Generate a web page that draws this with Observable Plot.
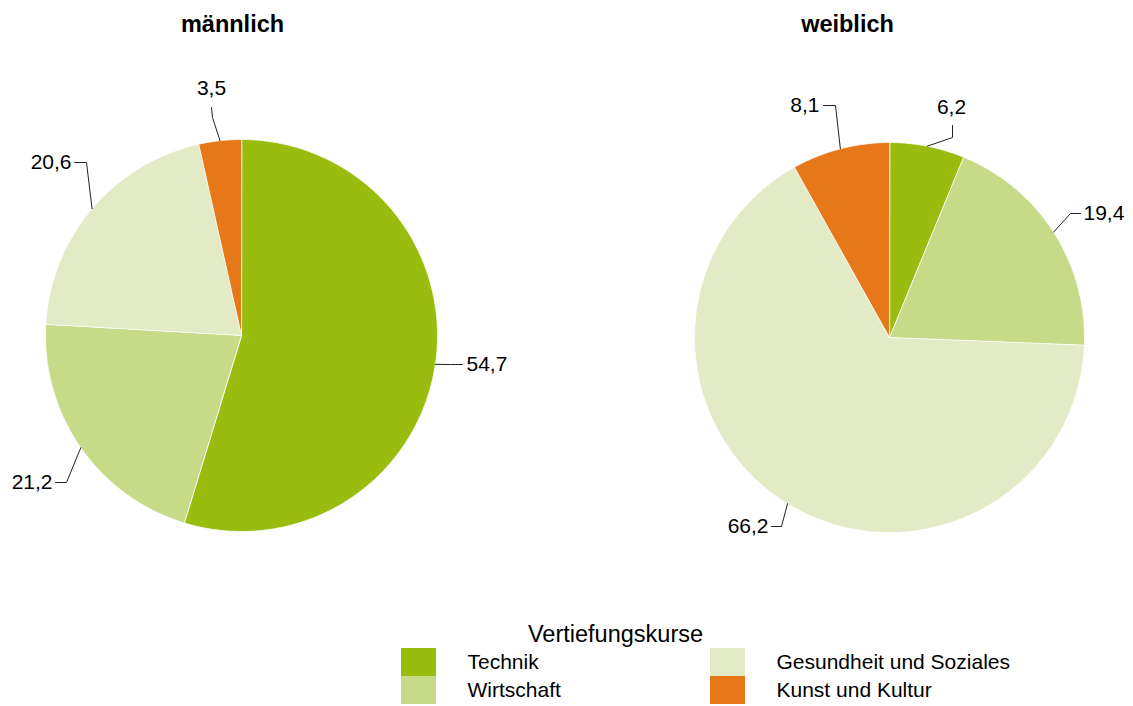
<!DOCTYPE html>
<html><head><meta charset="utf-8">
<script src="https://cdn.jsdelivr.net/npm/d3@7"></script>
<script src="https://cdn.jsdelivr.net/npm/@observablehq/plot@0.6"></script>
<style>body{margin:0;background:#fff;}</style>
</head><body><div id="chart"></div>
<script>
// ---- data ----
const categories = ["Technik", "Wirtschaft", "Gesundheit und Soziales", "Kunst und Kultur"];
const groups = ["männlich", "weiblich"];
const valuesMaennlich = [54.7, 21.2, 20.6, 3.5];
const valuesWeiblich = [6.2, 19.4, 66.2, 8.1];
const colors = ["#98bd0e", "#c6da87", "#e2ebc6", "#e67819"];
const legendTitle = "Vertiefungskurse";

// ---- layout (not data) ----
const W = 1133, H = 706;
const pieLayout = [
  {cx: 241, cy: 335, r: 196, titleX: 232},
  {cx: 889, cy: 337, r: 195, titleX: 847}
];
const titleY = 24;
// leader elbow / end / label offsets relative to each pie centre
const leaderLayout = [
  [
    {elbow: [209, 29], end: [221, 29], label: [225, 29], anchor: "start"},
    {elbow: [-175, 147], end: [-186, 147], label: [-189, 147], anchor: "end"},
    {elbow: [-155, -173], end: [-167, -173], label: [-170, -173], anchor: "end"},
    {elbow: [-29, -218], end: [-30, -228], label: [-30, -247], anchor: "middle"}
  ],
  [
    {elbow: [63, -200], end: [63, -212], label: [62, -230], anchor: "middle"},
    {elbow: [181, -124], end: [191, -124], label: [194, -124], anchor: "start"},
    {elbow: [-108, 189], end: [-118, 189], label: [-121, 189], anchor: "end"},
    {elbow: [-54, -232], end: [-66, -232], label: [-70, -232], anchor: "end"}
  ]
];
const legendLayout = {titleX: 615, titleY: 634, colX: [401, 710], rowY: [648, 676], swW: 35, swH: 28, textDx: 66};

const seriesValues = [valuesMaennlich, valuesWeiblich];
const pieGen = d3.pie().sort(null).value(d => d.value);
const fmt = v => v.toLocaleString("de-DE", {minimumFractionDigits: 1, maximumFractionDigits: 1});

const slicePts = [], leaders = [], labels = [], titles = [];
groups.forEach((g, gi) => {
  const L = pieLayout[gi];
  titles.push({text: g, x: L.titleX, y: titleY});
  const rows = categories.map((c, i) => ({group: g, category: c, value: seriesValues[gi][i]}));
  pieGen(rows).forEach((a, i) => {
    const key = g + "|" + a.data.category;
    const n = Math.max(2, Math.ceil((a.endAngle - a.startAngle) / (Math.PI / 360)));
    slicePts.push({key, category: a.data.category, x: L.cx, y: L.cy});
    for (let k = 0; k <= n; k++) {
      const ang = a.startAngle + (a.endAngle - a.startAngle) * k / n;
      slicePts.push({key, category: a.data.category, x: L.cx + L.r * Math.sin(ang), y: L.cy - L.r * Math.cos(ang)});
    }
    const mid = (a.startAngle + a.endAngle) / 2;
    const lay = leaderLayout[gi][i];
    leaders.push(
      {key, x: L.cx + L.r * Math.sin(mid), y: L.cy - L.r * Math.cos(mid)},
      {key, x: L.cx + lay.elbow[0], y: L.cy + lay.elbow[1]},
      {key, x: L.cx + lay.end[0], y: L.cy + lay.end[1]}
    );
    labels.push({text: fmt(a.data.value), x: L.cx + lay.label[0], y: L.cy + lay.label[1], anchor: lay.anchor});
  });
});

const legendRows = categories.map((c, i) => {
  const col = Math.floor(i / 2), row = i % 2;
  const x1 = legendLayout.colX[col], y1 = legendLayout.rowY[row];
  return {category: c, x1, x2: x1 + legendLayout.swW, y1, y2: y1 + legendLayout.swH,
          tx: x1 + legendLayout.textDx, ty: y1 + legendLayout.swH / 2};
});

const chart = Plot.plot({
  width: W, height: H,
  marginTop: 0, marginRight: 0, marginBottom: 0, marginLeft: 0,
  x: {domain: [0, W], range: [0, W], axis: null},
  y: {domain: [0, H], range: [0, H], axis: null},
  color: {domain: categories, range: colors},
  style: {fontFamily: "'Liberation Sans', Arial, sans-serif", background: "#fff", color: "#000"},
  marks: [
    Plot.line(slicePts, {x: "x", y: "y", z: "key", fill: "category", stroke: "white", strokeWidth: 0.8, curve: "linear-closed"}),
    Plot.line(leaders, {x: "x", y: "y", z: "key", stroke: "#222", strokeWidth: 1}),
    ...["start", "middle", "end"].map(an =>
      Plot.text(labels.filter(d => d.anchor === an), {x: "x", y: "y", text: "text", textAnchor: an, lineAnchor: "middle", fontSize: 21, fill: "#000"})
    ),
    Plot.text(titles, {x: "x", y: "y", text: "text", fontSize: 23.5, fontWeight: "bold", lineAnchor: "middle", fill: "#000"}),
    Plot.text([legendTitle], {x: () => legendLayout.titleX, y: () => legendLayout.titleY, text: d => d, fontSize: 23.5, lineAnchor: "middle", fill: "#000"}),
    Plot.rect(legendRows, {x1: "x1", x2: "x2", y1: "y1", y2: "y2", fill: "category"}),
    Plot.text(legendRows, {x: "tx", y: "ty", text: "category", textAnchor: "start", lineAnchor: "middle", fontSize: 21, fill: "#000"})
  ]
});
document.getElementById("chart").appendChild(chart);
</script>
</body></html>
